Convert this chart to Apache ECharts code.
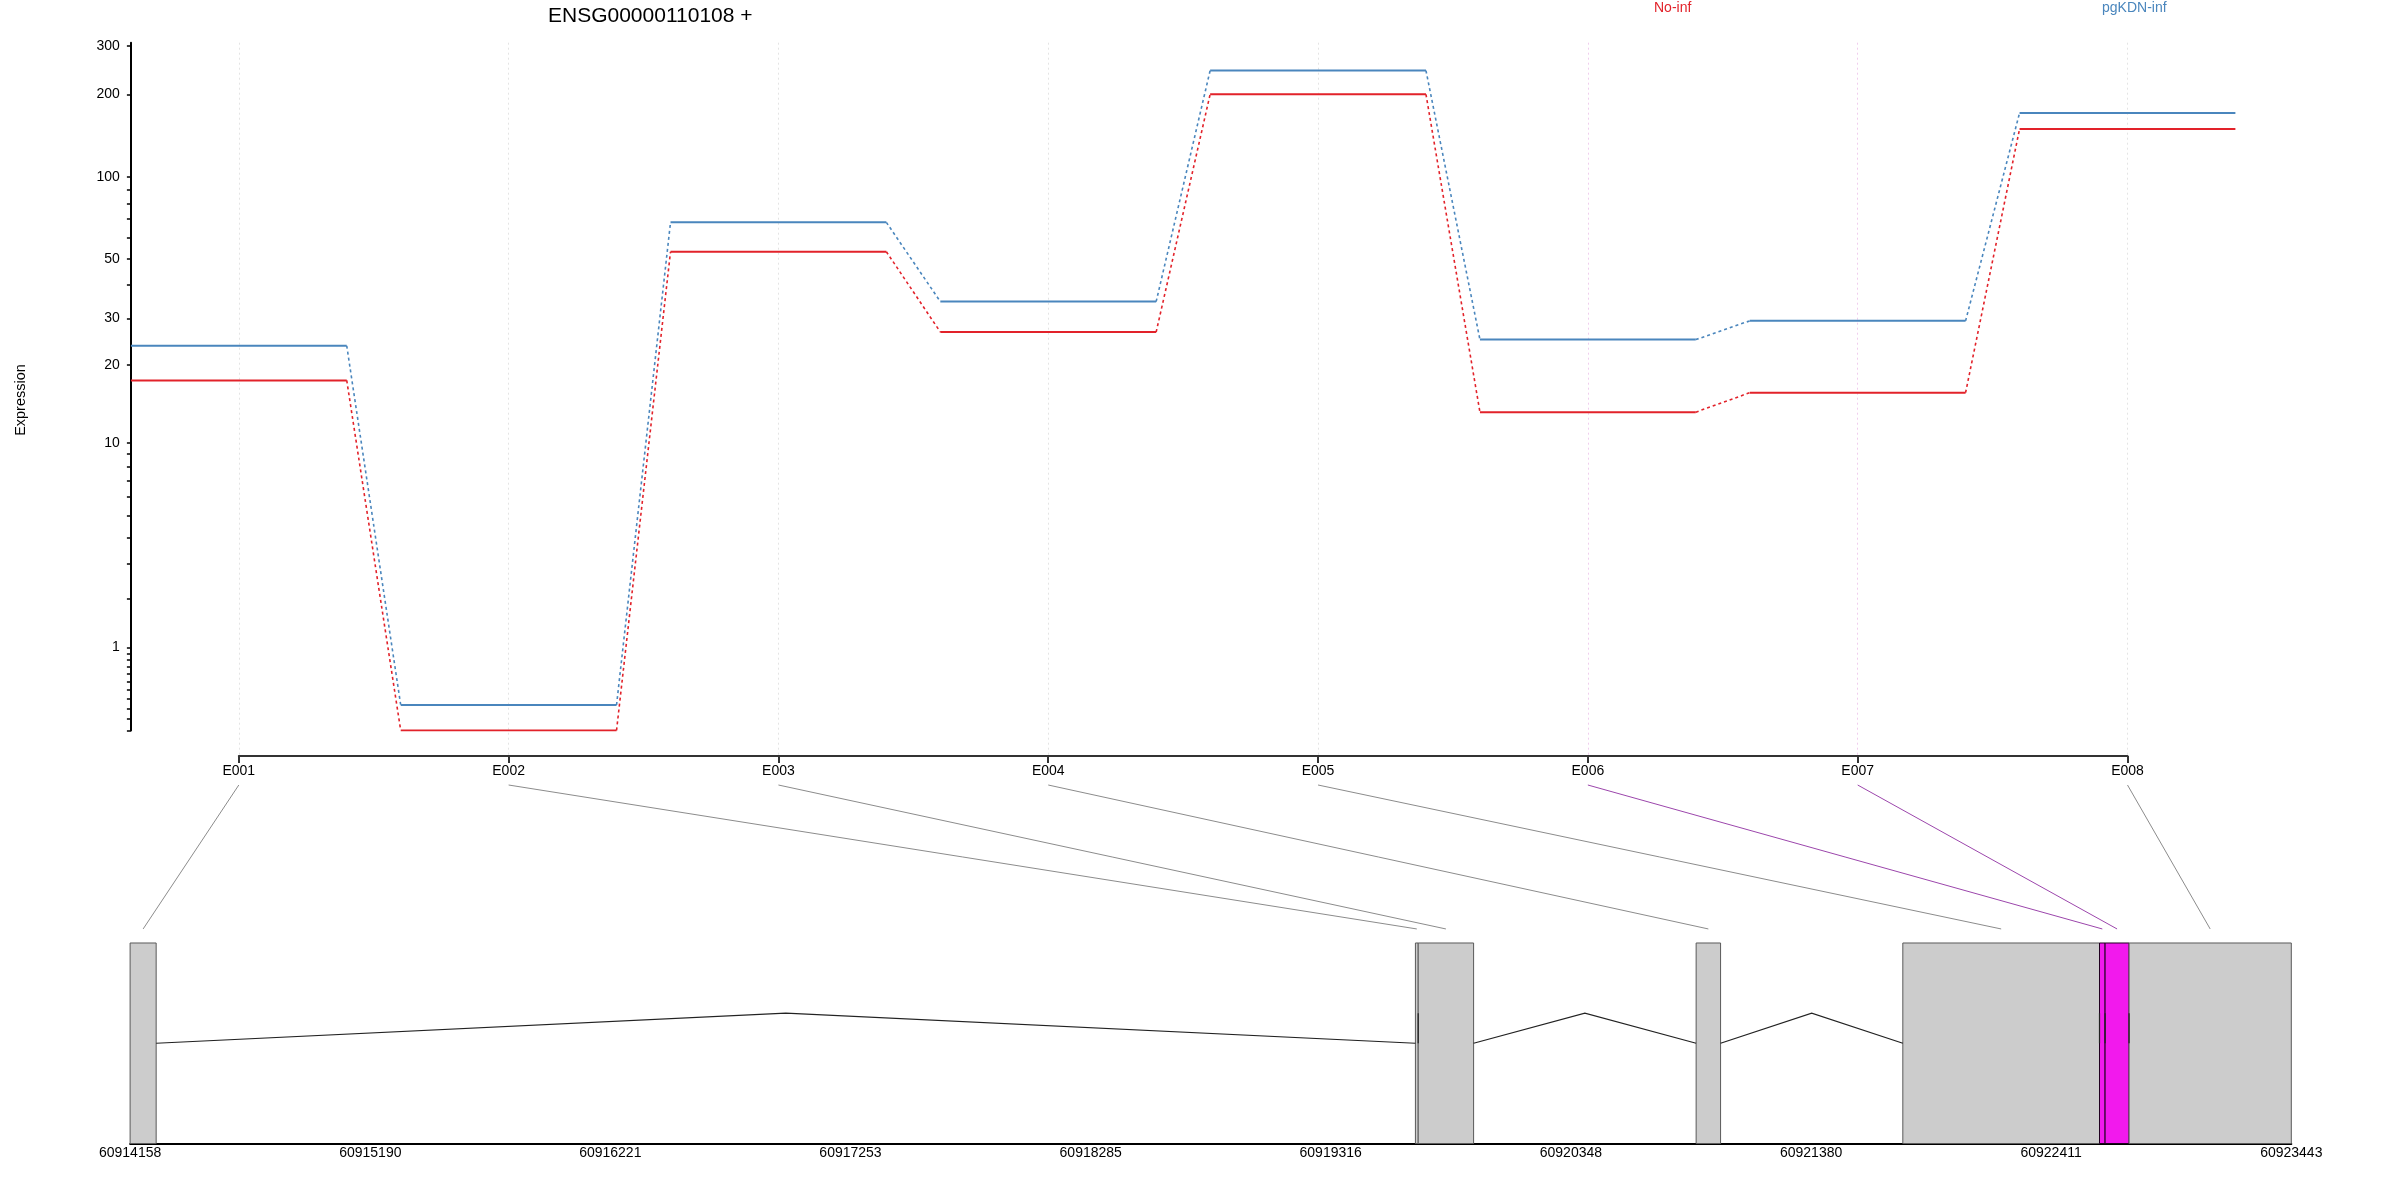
<!DOCTYPE html>
<html><head><meta charset="utf-8">
<script src="https://cdn.jsdelivr.net/npm/echarts@6/dist/echarts.min.js"></script>
<style>html,body{margin:0;padding:0;background:#fff}#c{width:2400px;height:1200px}</style>
</head><body><div id="c"></div>
<script>
// ---------------- data ----------------
const geneTitle = 'ENSG00000110108 +';
const exonIds = ['E001', 'E002', 'E003', 'E004', 'E005', 'E006', 'E007', 'E008'];
const noInf = [17.5, 0, 53.1, 26.7, 200.0, 13.2, 15.7, 149.5];
const pgKDNInf = [23.7, 0.236, 68.1, 34.7, 244.0, 25.0, 29.4, 171.0];
const exonStart = [60914158, 60919680, 60919692, 60920886, 60921774, 60922619, 60922643, 60922746];
const exonEnd   = [60914270, 60919692, 60919930, 60920991, 60922619, 60922643, 60922746, 60923443];
const significant = [false, false, false, false, false, true, true, false];
const yTickValues = [0, 0.1, 0.2, 0.3, 0.4, 0.5, 0.6, 0.7, 0.8, 0.9, 1, 2, 3, 4, 5, 6, 7, 8, 9,
  10, 20, 30, 40, 50, 60, 70, 80, 90, 100, 200, 300];
const yLabelValues = [1, 10, 20, 30, 50, 100, 200, 300];
const geneTickLabels = [60914158, 60915190, 60916221, 60917253, 60918285, 60919316, 60920348, 60921380, 60922411, 60923443];
const condNames = ['No-inf', 'pgKDN-inf'];

// ---------------- styling ----------------
const FONT = 'Liberation Sans';
const RED = '#E2222A';
const BLUE = '#4A86BD';
const L = v => Math.log10(v + 1);

function segData(vals) {
  const d = [];
  vals.forEach((v, i) => {
    const x = i + 1;
    d.push([x - 0.4, L(v)], [x + 0.4, L(v)]);
    if (i < vals.length - 1) d.push([x + 0.5, '-']);
  });
  return d;
}
function linkData(vals) {
  const d = [];
  for (let i = 0; i < vals.length - 1; i++) {
    const x = i + 1;
    d.push([x + 0.4, L(vals[i])], [x + 0.6, L(vals[i + 1])]);
    if (i < vals.length - 2) d.push([x + 0.7, '-']);
  }
  return d;
}

const gMin = exonStart[0], gMax = exonEnd[exonEnd.length - 1];
const geneYMax = 1.788;
let ePx = [];

const chart = echarts.init(document.getElementById('c'));

const lineSeries = [];
[[noInf, RED, condNames[0]], [pgKDNInf, BLUE, condNames[1]]].forEach(([vals, col, name]) => {
  lineSeries.push({
    type: 'line', name: name, xAxisIndex: 0, yAxisIndex: 0, data: segData(vals),
    showSymbol: false, symbol: 'none', connectNulls: false, silent: true,
    lineStyle: { color: col, width: 2 }, itemStyle: { color: col }
  });
  lineSeries.push({
    type: 'line', name: name, xAxisIndex: 0, yAxisIndex: 0, data: linkData(vals),
    showSymbol: false, symbol: 'none', connectNulls: false, silent: true,
    lineStyle: { color: col, width: 1.6, type: [3, 3] }, itemStyle: { color: col }
  });
});

const option = {
  animation: false,
  backgroundColor: '#fff',
  textStyle: { fontFamily: FONT },
  title: {
    text: geneTitle, left: 548, top: 6, padding: 0,
    textStyle: { fontSize: 21, fontWeight: 'normal', color: '#000', fontFamily: FONT }
  },
  legend: [
    { data: [{ name: condNames[0], textStyle: { color: RED } }], left: 1648, top: 1, padding: 0,
      itemWidth: 0, itemHeight: 0, selectedMode: false, textStyle: { fontSize: 14, fontFamily: FONT } },
    { data: [{ name: condNames[1], textStyle: { color: BLUE } }], left: 2096, top: 1, padding: 0,
      itemWidth: 0, itemHeight: 0, selectedMode: false, textStyle: { fontSize: 14, fontFamily: FONT } }
  ],
  graphic: [{
    type: 'text', x: 21, y: 400, rotation: Math.PI / 2,
    style: { text: 'Expression', fontSize: 14.5, fill: '#000', align: 'center', verticalAlign: 'middle', fontFamily: FONT }
  }],
  grid: [
    { left: 130.9, right: 164.6, top: 42.7, bottom: 469.6, outerBoundsMode: 'none' },
    { left: 238.8, right: 272.5, top: 42.7, bottom: 444, outerBoundsMode: 'none' },
    { left: 130.1, right: 108.7, top: 785, bottom: 56.5, outerBoundsMode: 'none' }
  ],
  xAxis: [
    { gridIndex: 0, type: 'value', min: 0.6, max: 8.4, show: false },
    { gridIndex: 1, type: 'value', min: 1, max: 8, interval: 1,
      axisLine: { show: true, onZero: false, lineStyle: { color: '#333', width: 2 } },
      axisTick: { show: true, length: 7, lineStyle: { color: '#333', width: 2 } },
      axisLabel: { formatter: v => exonIds[Math.round(v) - 1] || '', fontSize: 14, color: '#000', margin: 8, fontFamily: FONT },
      splitLine: { show: true, lineStyle: { type: [2, 3], width: 1,
        color: significant.map(s => s ? '#f0cdee' : '#e4e4e4') } } },
    { gridIndex: 2, type: 'value', min: gMin, max: gMax,
      axisLine: { show: true, onZero: false, lineStyle: { color: '#000', width: 2 } },
      axisTick: { show: false },
      axisLabel: { customValues: geneTickLabels, formatter: v => String(Math.round(v)), fontSize: 14, color: '#000', margin: 3, fontFamily: FONT },
      splitLine: { show: false } }
  ],
  yAxis: [
    { gridIndex: 0, type: 'value', min: 0, max: 2.49,
      axisLine: { show: true, onZero: false, lineStyle: { color: '#000', width: 2 } },
      axisTick: { show: true, length: 4, customValues: yTickValues.map(L), lineStyle: { color: '#000', width: 1.5 } },
      axisLabel: { customValues: yLabelValues.map(L), formatter: v => String(Math.round(Math.pow(10, v) - 1)),
        fontSize: 14, color: '#000', margin: 11, fontFamily: FONT, padding: [5, 0, 0, 0] },
      splitLine: { show: false } },
    { gridIndex: 1, type: 'value', min: 0, max: 1, show: false },
    { gridIndex: 2, type: 'value', min: 0, max: geneYMax, show: false }
  ],
  series: lineSeries.concat([
    { // exons
      type: 'custom', id: 'exons', xAxisIndex: 2, yAxisIndex: 2, silent: true,
      data: exonIds.map((id, i) => [exonStart[i], exonEnd[i], significant[i] ? 1 : 0]),
      renderItem: (params, api) => {
        const p0 = api.coord([api.value(0), 1]);
        const p1 = api.coord([api.value(1), 0]);
        const sig = api.value(2);
        return { type: 'rect', shape: { x: p0[0], y: p0[1], width: Math.max(p1[0] - p0[0], 1), height: p1[1] - p0[1] },
          style: { fill: sig ? '#F219ED' : '#CCCCCC', stroke: sig ? '#200020' : '#5a5a5a', lineWidth: 1 } };
      }
    },
    { // introns (drawn over exons)
      type: 'custom', id: 'introns', xAxisIndex: 2, yAxisIndex: 2, silent: true,
      data: exonEnd.slice(0, -1).map((e, i) => [e, exonStart[i + 1]]),
      renderItem: (params, api) => {
        const a = api.value(0), b = api.value(1);
        return { type: 'polyline', shape: { points: [api.coord([a, 0.5]), api.coord([(a + b) / 2, 0.65]), api.coord([b, 0.5])] },
          style: { stroke: '#222', lineWidth: 1.2, fill: null } };
      }
    },
    { // connectors from exon labels to exon positions
      type: 'custom', id: 'conn', xAxisIndex: 2, yAxisIndex: 2, silent: true,
      data: [],
      renderItem: (params, api) => {
        const i = api.value(0);
        if (ePx[i] == null) return null;
        const mid = (api.value(1) + api.value(2)) / 2;
        const top = api.coord([mid, geneYMax])[1];
        const bot = api.coord([mid, 1.07]);
        return { type: 'line', shape: { x1: ePx[i], y1: top, x2: bot[0], y2: bot[1] },
          style: { stroke: api.value(3) ? '#9C46AC' : '#8c8c8c', lineWidth: 1 } };
      }
    }
  ])
};

chart.setOption(option);
ePx = exonIds.map((id, i) => chart.convertToPixel({ xAxisIndex: 1 }, i + 1));
chart.setOption({ series: [{ id: 'conn', data: exonIds.map((id, i) => [i, exonStart[i], exonEnd[i], significant[i] ? 1 : 0]) }] });
</script></body></html>
